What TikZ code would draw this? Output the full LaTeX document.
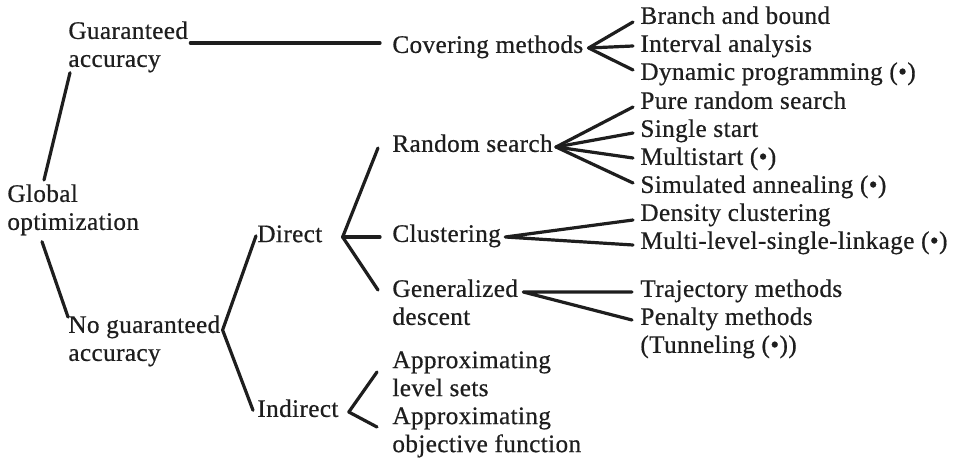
\documentclass[tikz,border=0pt]{standalone}
\usepackage{fontspec}
\setmainfont{Liberation Serif}[LetterSpace=1.5, FakeBold=0.6]
\usetikzlibrary{calc}

\definecolor{inkgray}{HTML}{1E1E1E}

\begin{document}
\begin{tikzpicture}[
  x=0.5pt, y=-0.5pt,
  lbl/.style={anchor=north west, inner sep=0pt, align=left},
  link/.style={line width=1.6pt, draw=inkgray, line cap=round, line join=round},
  every node/.style={font=\fontsize{12.6}{14}\selectfont, text=inkgray}
]
\useasboundingbox (0,0) rectangle (961,465);

% Root and accuracy split
\node[lbl] (glob) at (7,184) {Global\\optimization};
\node[lbl] (guar) at (68,21) {Guaranteed\\accuracy};
\node[lbl] (nog) at (68,315) {No guaranteed\\accuracy};

% Direct / indirect
\node[lbl] (dir) at (257,225) {Direct};
\node[lbl] (ind) at (257,399) {Indirect};

% Method classes
\node[lbl] (cov) at (392,35) {Covering methods};
\node[lbl] (rnd) at (392,134) {Random search};
\node[lbl] (clu) at (392,224) {Clustering};
\node[lbl] (gen) at (392,279) {Generalized\\descent};
\node[lbl] (als) at (392,351) {Approximating\\level sets};
\node[lbl] (aof) at (392,407) {Approximating\\objective function};

% Methods
\node[lbl] (bb) at (640,6) {Branch and bound};
\node[lbl] (ia) at (640,34) {Interval analysis};
\node[lbl] (dp) at (640,62) {Dynamic programming (•)};
\node[lbl] (prs) at (640,91) {Pure random search};
\node[lbl] (ss) at (640,119) {Single start};
\node[lbl] (ms) at (640,147) {Multistart (•)};
\node[lbl] (sa) at (640,175) {Simulated annealing (•)};
\node[lbl] (dc) at (640,203) {Density clustering};
\node[lbl] (mls) at (640,231) {Multi-level-single-linkage (•)};
\node[lbl] (tm) at (640,279) {Trajectory methods};
\node[lbl] (pm) at (640,307) {Penalty methods\\(Tunneling (•))};

% Bracket corners
\coordinate (nogv) at ($(nog.north east)+(2,15)$);
\coordinate (dirv) at ($(dir.north east)+(20,12)$);
\coordinate (indv) at ($(ind.north east)+(10,13)$);
\coordinate (covv) at ($(cov.north east)+(5,13)$);
\coordinate (rndv) at ($(rnd.north east)+(3,13)$);
\coordinate (cluv) at ($(clu.north east)+(4,13)$);
\coordinate (genv) at ($(gen.north east)+(5,13)$);

% Connections
\draw[link] ($(glob.north west)+(37,-4)$) -- ($(guar.south west)+(2,0)$);
\draw[link] ($(glob.south west)+(35,6)$) -- ($(nog.north west)+(0,2)$);
\draw[link] ($(guar.north east)+(2,22)$) -- ($(cov.north west)+(-12,8)$);
\draw[link] ($(dir.west)+(-1,2)$) -- (nogv) -- ($(ind.west)+(-4,2)$);

\draw[link] ($(rnd.north west)+(-14,14)$) -- (dirv) -- ($(gen.north west)+(-14,11)$);
\draw[link] (dirv) -- ($(clu.north west)+(-12,13)$);
\draw[link] ($(als.north west)+(-15,21)$) -- (indv) -- ($(aof.north west)+(-15,20)$);

\draw[link] ($(bb.north west)+(-7,16)$) -- (covv) -- ($(dp.north west)+(-7,8)$);
\draw[link] (covv) -- ($(ia.north west)+(-7,12)$);

\draw[link] ($(prs.north west)+(-7,16)$) -- (rndv) -- ($(sa.north west)+(-7,8)$);
\draw[link] (rndv) -- ($(ss.north west)+(-7,14)$);
\draw[link] (rndv) -- ($(ms.north west)+(-7,11)$);

\draw[link] ($(dc.north west)+(-7,17)$) -- (cluv) -- ($(mls.north west)+(-7,14)$);
\draw[link] ($(tm.north west)+(-8,13)$) -- (genv) -- ($(pm.north west)+(-8,13)$);

\end{tikzpicture}
\end{document}
